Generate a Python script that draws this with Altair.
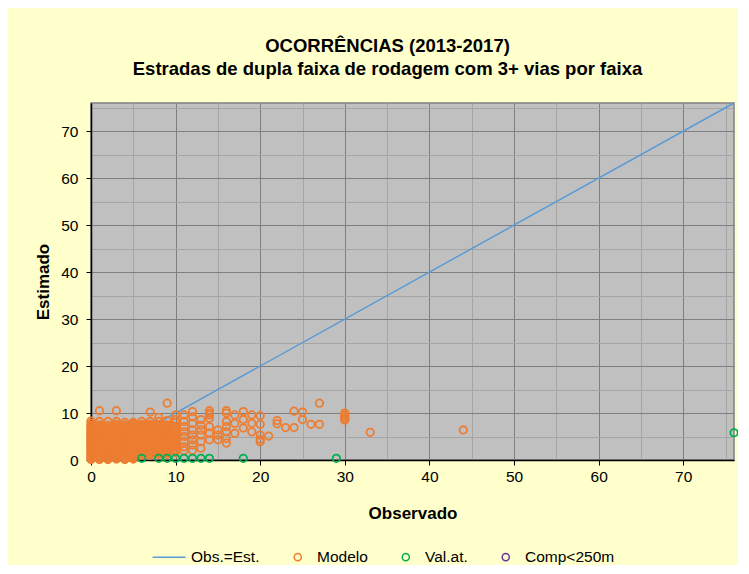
import altair as alt
import pandas as pd

FONT = "Liberation Sans"

title_lines = ["OCORRÊNCIAS (2013-2017)",
               "Estradas de dupla faixa de rodagem com 3+ vias por faixa"]
x_title = "Observado"
y_title = "Estimado"

series_names = ["Obs.=Est.", "Modelo", "Val.at.", "Comp<250m"]
series_colors = ["#5B9BD5", "#ED7D31", "#00B050", "#7030A0"]

modelo_cols = {
    0: [0.1, 0.3, 0.6, 0.9, 1.2, 1.4, 1.7, 2.0, 2.3, 2.6, 2.8, 3.1, 3.4, 3.7, 4.0,
        4.2, 4.5, 4.8, 5.1, 5.4, 5.6, 5.9, 6.2, 6.5, 6.8, 7.1, 7.4, 7.8, 8.3],
    1: [0.1, 0.4, 0.7, 0.9, 1.2, 1.5, 1.8, 2.1, 2.3, 2.6, 2.9, 3.2, 3.5, 3.8, 4.1,
        4.3, 4.6, 4.9, 5.2, 5.5, 5.8, 6.0, 6.3, 6.6, 6.9, 7.2, 7.5, 8.2, 10.5],
    2: [0.1, 0.3, 0.6, 0.9, 1.1, 1.4, 1.7, 2.0, 2.3, 2.5, 2.8, 3.1, 3.4, 3.6, 3.9,
        4.2, 4.5, 4.8, 5.0, 5.3, 5.6, 5.9, 6.2, 6.4, 6.7, 7.0, 7.4, 8.2],
    3: [0.2, 0.4, 0.7, 1.0, 1.3, 1.5, 1.8, 2.1, 2.4, 2.7, 2.9, 3.2, 3.5, 3.8, 4.1,
        4.4, 4.6, 4.9, 5.2, 5.5, 5.8, 6.1, 6.3, 6.6, 6.9, 7.3, 7.6, 8.2, 10.5],
    4: [0.1, 0.3, 0.6, 0.9, 1.2, 1.5, 1.7, 2.0, 2.3, 2.6, 2.9, 3.1, 3.4, 3.7, 4.0,
        4.3, 4.5, 4.8, 5.1, 5.4, 5.7, 5.9, 6.2, 6.5, 6.8, 7.1, 7.5, 8.0],
    5: [0.2, 0.4, 0.7, 1.0, 1.3, 1.6, 1.8, 2.1, 2.4, 2.7, 3.0, 3.2, 3.5, 3.8, 4.1,
        4.4, 4.7, 4.9, 5.2, 5.5, 5.8, 6.1, 6.4, 6.7, 7.0, 7.3, 7.7, 8.0],
    6: [1.0, 1.3, 1.6, 1.9, 2.2, 2.5, 2.8, 3.1, 3.4, 3.7, 4.0, 4.3, 4.6, 4.9, 5.2,
        5.5, 5.8, 6.1, 6.4, 6.7, 7.0, 7.3, 7.6, 8.2],
    7: [1.0, 1.3, 1.6, 1.9, 2.2, 2.5, 2.8, 3.1, 3.4, 3.7, 4.0, 4.3, 4.6, 4.9, 5.2,
        5.5, 5.8, 6.1, 6.4, 6.7, 7.0, 7.3, 7.6, 8.2, 10.2],
    8: [1.2, 1.5, 1.8, 2.1, 2.4, 2.7, 3.0, 3.3, 3.6, 3.9, 4.2, 4.5, 4.8, 5.1, 5.4,
        5.7, 6.0, 6.3, 6.6, 6.9, 7.2, 7.5, 8.2, 9.1],
    9: [1.2, 1.5, 1.8, 2.1, 2.4, 2.7, 3.0, 3.3, 3.6, 3.9, 4.2, 4.5, 4.8, 5.1, 5.4,
        5.7, 6.0, 6.3, 6.6, 6.9, 7.2, 7.5, 8.4, 12.1],
    10: [1.6, 2.0, 2.4, 2.8, 3.2, 3.6, 4.0, 4.4, 4.8, 5.2, 5.6, 6.0, 6.4, 6.8, 7.2,
         8.0, 8.6, 9.6],
    11: [2.0, 2.8, 3.9, 5.0, 6.0, 7.1, 8.2, 9.6],
    12: [2.1, 3.2, 4.3, 5.3, 6.4, 7.8, 9.2, 10.3],
    13: [2.5, 3.9, 5.3, 6.4, 7.4, 8.6],
    14: [4.3, 5.7, 7.1, 8.9, 9.6, 10.0, 10.5],
    15: [4.3, 5.3, 6.4],
    16: [3.6, 4.6, 6.0, 7.1, 8.2, 10.0, 10.5],
    17: [5.7, 7.8, 9.6],
    18: [6.8, 8.6, 10.3],
    19: [6.0, 7.8, 9.6],
    20: [3.9, 4.4, 5.3, 7.6, 9.4],
    21: [5.1],
    22: [7.7, 8.4],
    23: [6.9],
    24: [6.9, 10.4],
    25: [8.6, 10.2],
    26: [7.6],
    27: [7.6, 12.1],
    30: [8.5, 8.8, 9.2, 9.6, 10.0],
    33: [5.9],
    44: [6.4],
}

valat_x = [6, 8, 9, 10, 11, 12, 13, 14, 18, 29, 76]
valat_y = [0.35, 0.35, 0.35, 0.35, 0.35, 0.35, 0.35, 0.35, 0.35, 0.35, 5.8]

comp_x = []
comp_y = []

line_x = [0, 76]
line_y = [0, 76]

axis_max = 76
tick_values = [0, 5, 10, 15, 20, 25, 30, 35, 40, 45, 50, 55, 60, 65, 70, 75]

rows = []
for xv, ys in modelo_cols.items():
    for yv in ys:
        rows.append({"x": xv, "y": yv, "series": "Modelo"})
for xv, yv in zip(valat_x, valat_y):
    rows.append({"x": xv, "y": yv, "series": "Val.at."})
for xv, yv in zip(comp_x, comp_y):
    rows.append({"x": xv, "y": yv, "series": "Comp<250m"})
points_df = pd.DataFrame(rows)
line_df = pd.DataFrame({"x": line_x, "y": line_y})

major = "datum.value % 10 === 0"
grid_color = {"condition": {"test": major, "value": "#7F7F7F"}, "value": "#A5A5A5"}
tick_color = {"condition": {"test": major, "value": "#000000"}, "value": "transparent"}

common_axis = dict(
    values=tick_values,
    labelExpr=f"{major} ? datum.label : ''",
    gridColor=grid_color,
    gridWidth=1,
    tickColor=tick_color,
    tickSize=5,
    tickWidth=1,
    domainColor="#000000",
    domainWidth=1.5,
    labelFont=FONT,
    labelFontSize=15.5,
    labelColor="#000000",
    labelOverlap=False,
    labelFlush=False,
    titleFont=FONT,
    titleFontSize=17,
    titleFontWeight="bold",
    titleColor="#000000",
)

x_axis = alt.Axis(labelPadding=4, titlePadding=21, **common_axis)
y_axis = alt.Axis(labelPadding=8, titlePadding=8, **common_axis)

x_enc = alt.X("x:Q", scale=alt.Scale(domain=[0, axis_max], nice=False), axis=x_axis, title=x_title)
y_enc = alt.Y("y:Q", scale=alt.Scale(domain=[0, axis_max], nice=False), axis=y_axis, title=y_title)

line_symbol = "M-5.4,0H3.9"
legend = alt.Legend(
    title=None,
    orient="none",
    legendX=73,
    legendY=446,
    direction="horizontal",
    columns=4,
    columnPadding=30,
    gridAlign="each",
    padding=0,
    labelFont=FONT,
    labelFontSize=15.5,
    labelColor="#000000",
    labelOffset=11.5,
    labelLimit=300,
    symbolSize=50,
    symbolStrokeWidth=1.5,
)

line = alt.Chart(line_df).mark_line(color=series_colors[0], strokeWidth=1.5).encode(
    x=x_enc, y=y_enc
)

points = alt.Chart(points_df).mark_point(filled=False, size=55, strokeWidth=1.8, opacity=1).encode(
    x=x_enc,
    y=y_enc,
    color=alt.Color("series:N", scale=alt.Scale(domain=series_names, range=series_colors), legend=legend),
    shape=alt.Shape("series:N", scale=alt.Scale(domain=series_names,
                                                range=[line_symbol, "circle", "circle", "circle"]),
                    legend=legend),
)

chart = alt.layer(line, points).properties(
    width=643,
    height=357,
    autosize=alt.AutoSizeParams(type="none"),
    padding={"left": 83, "top": 95, "right": 4, "bottom": 105},
    background="#FFFFCC",
    title=alt.TitleParams(
        text=title_lines,
        font=FONT,
        fontSize=18.5,
        fontWeight="bold",
        color="#000000",
        anchor="middle",
        dx=-25,
        lineHeight=23,
        offset=22,
    ),
).configure_view(
    fill="#C0C0C0",
    stroke="#808080",
    strokeWidth=1.5,
)

chart.save("out.html", embed_options={"renderer": "svg", "actions": False})
